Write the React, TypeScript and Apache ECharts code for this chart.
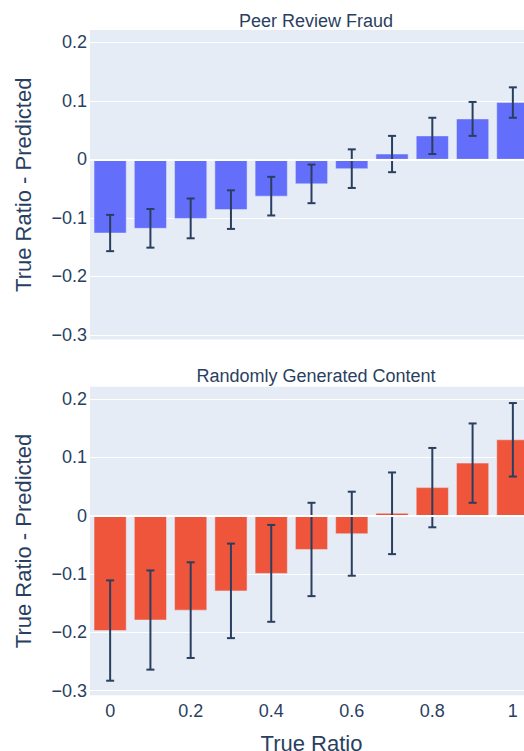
import React, { useEffect, useRef } from "react";
import * as echarts from "echarts";

// True ratio bins
const ratios = [0, 0.1, 0.2, 0.3, 0.4, 0.5, 0.6, 0.7, 0.8, 0.9, 1.0];

// Peer Review Fraud: mean of (true ratio - predicted) and its error half-width
const fraudMean = [-0.126, -0.118, -0.101, -0.086, -0.063, -0.042, -0.016, 0.009, 0.04, 0.069, 0.097];
const fraudErr = [0.031, 0.033, 0.034, 0.033, 0.033, 0.033, 0.033, 0.031, 0.031, 0.029, 0.026];

// Randomly Generated Content
const randomMean = [-0.197, -0.179, -0.162, -0.129, -0.099, -0.058, -0.031, 0.004, 0.048, 0.09, 0.13];
const randomErr = [0.086, 0.085, 0.082, 0.081, 0.083, 0.08, 0.072, 0.07, 0.068, 0.068, 0.063];

const yTicks = [-0.3, -0.2, -0.1, 0, 0.1, 0.2];
const xTicks = [0, 0.2, 0.4, 0.6, 0.8, 1];

const TEXT = "#2a3f5f";
const BG = "#E5ECF6";
const FONT = "'Liberation Sans', Arial, sans-serif";
const BAR_W = 0.08;

const fmt = (v: number) => {
  const s = String(Number(Math.abs(v).toFixed(2)));
  return v < 0 ? "\u2212" + s : s;
};

const barRenderer = (color: string) => (_params: any, api: any) => {
  const x = api.value(0);
  const y = api.value(1);
  const base = api.coord([x, 0]);
  const tip = api.coord([x, y]);
  const w = api.size([BAR_W, 0])[0];
  return {
    type: "rect",
    shape: {
      x: base[0] - w / 2,
      y: Math.min(base[1], tip[1]),
      width: w,
      height: Math.abs(tip[1] - base[1]),
    },
    style: { fill: color, stroke: BG, lineWidth: 0.5 },
  };
};

const errRenderer = (_params: any, api: any) => {
  const x = api.value(0);
  const a = api.coord([x, api.value(1)]);
  const b = api.coord([x, api.value(2)]);
  const style = { stroke: TEXT, lineWidth: 2 };
  const cap = 4;
  return {
    type: "group",
    children: [
      { type: "line", shape: { x1: a[0], y1: a[1], x2: b[0], y2: b[1] }, style },
      { type: "line", shape: { x1: a[0] - cap, y1: a[1], x2: a[0] + cap, y2: a[1] }, style },
      { type: "line", shape: { x1: b[0] - cap, y1: b[1], x2: b[0] + cap, y2: b[1] }, style },
    ],
  };
};

const makeXAxis = (gridIndex: number, showLabels: boolean) => ({
  type: "value",
  gridIndex,
  min: -0.05,
  max: 1.05,
  axisLine: { show: false },
  axisTick: { show: false, customValues: xTicks },
  splitLine: { show: false },
  axisLabel: {
    show: showLabels,
    customValues: xTicks,
    formatter: (v: number) => fmt(v),
    color: TEXT,
    fontSize: 18,
    fontFamily: FONT,
    margin: 7,
  },
  name: showLabels ? "True Ratio" : "",
  nameLocation: "middle",
  nameGap: 41,
  nameTextStyle: { color: TEXT, fontSize: 22, lineHeight: 14, fontFamily: FONT },
});

const makeYAxis = (gridIndex: number) => ({
  type: "value",
  gridIndex,
  min: -0.308,
  max: 0.221,
  axisLine: { show: false },
  axisTick: { show: false, customValues: yTicks },
  splitLine: { show: true, lineStyle: { color: "#ffffff", width: 1 } },
  axisLabel: {
    customValues: yTicks,
    formatter: (v: number) => fmt(v),
    color: TEXT,
    fontSize: 18,
    fontFamily: FONT,
    margin: 3,
  },
  name: "True Ratio - Predicted",
  nameLocation: "middle",
  nameGap: 56,
  nameTextStyle: { color: TEXT, fontSize: 22, fontFamily: FONT },
});

const panelSeries = (idx: number, means: number[], errs: number[], color: string) => [
  {
    type: "line",
    xAxisIndex: idx,
    yAxisIndex: idx,
    data: [],
    z: 1,
    silent: true,
    markLine: {
      silent: true,
      symbol: "none",
      label: { show: false },
      lineStyle: { color: "#ffffff", width: 2, type: "solid" },
      data: [{ yAxis: 0 }],
    },
  },
  {
    type: "custom",
    xAxisIndex: idx,
    yAxisIndex: idx,
    z: 2,
    renderItem: barRenderer(color),
    encode: { x: 0, y: 1 },
    data: ratios.map((r, i) => [r, means[i]]),
  },
  {
    type: "custom",
    xAxisIndex: idx,
    yAxisIndex: idx,
    z: 3,
    renderItem: errRenderer,
    encode: { x: 0, y: [1, 2] },
    data: ratios.map((r, i) => [r, means[i] - errs[i], means[i] + errs[i]]),
  },
];

export default function App() {
  const ref = useRef<HTMLDivElement>(null);

  useEffect(() => {
    if (!ref.current) return;
    const chart = echarts.init(ref.current, undefined, { renderer: "svg" });
    chart.setOption({
      animation: false,
      backgroundColor: "#ffffff",
      textStyle: { fontFamily: FONT },
      title: [
        {
          text: "Peer Review Fraud",
          left: 311,
          top: 7,
          textAlign: "center",
          textStyle: { color: TEXT, fontSize: 18, fontWeight: "normal", fontFamily: FONT },
        },
        {
          text: "Randomly Generated Content",
          left: 311,
          top: 362,
          textAlign: "center",
          textStyle: { color: TEXT, fontSize: 18, fontWeight: "normal", fontFamily: FONT },
        },
      ],
      grid: [
        {
          left: 90, top: 30, width: 443, height: 309.5,
          show: true, backgroundColor: BG, borderWidth: 0,
          outerBoundsMode: "none", containLabel: false,
        },
        {
          left: 90, top: 386.7, width: 443, height: 308.6,
          show: true, backgroundColor: BG, borderWidth: 0,
          outerBoundsMode: "none", containLabel: false,
        },
      ],
      xAxis: [makeXAxis(0, false), makeXAxis(1, true)],
      yAxis: [makeYAxis(0), makeYAxis(1)],
      series: [
        ...panelSeries(0, fraudMean, fraudErr, "#636EFA"),
        ...panelSeries(1, randomMean, randomErr, "#EF553B"),
      ],
    });
    return () => chart.dispose();
  }, []);

  return (
    <div
      ref={ref}
      style={{ position: "fixed", left: 0, top: 0, width: 524, height: 751 }}
    />
  );
}
